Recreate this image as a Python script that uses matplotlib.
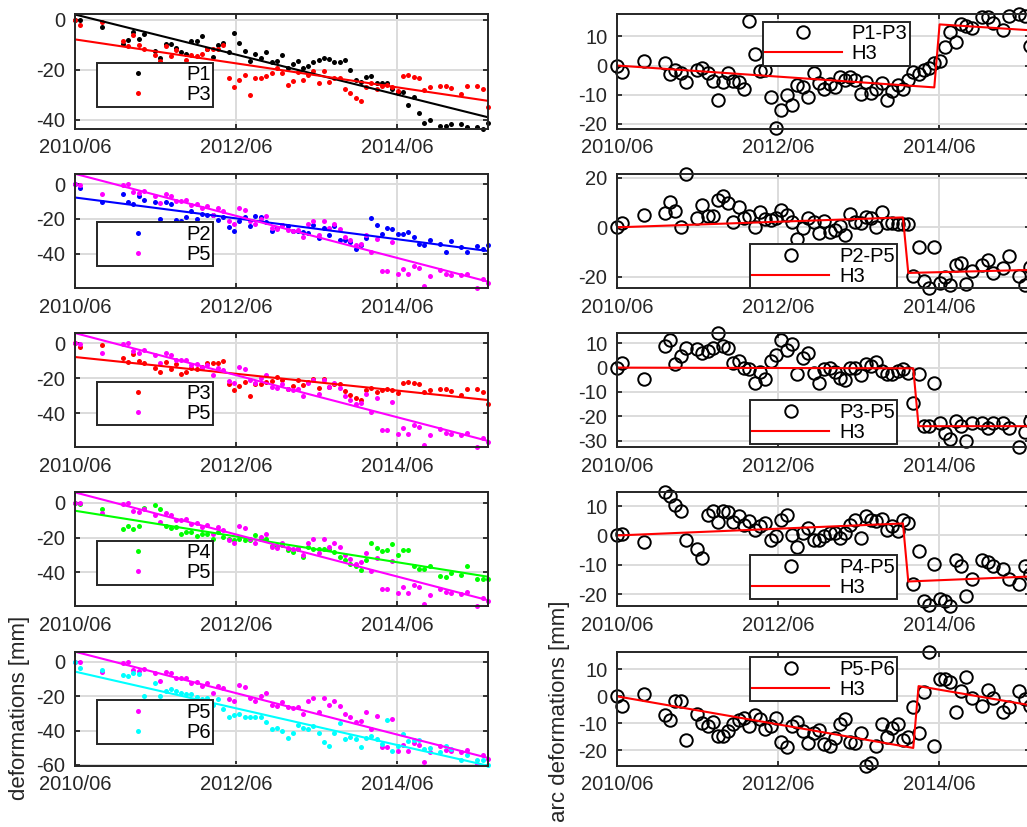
import numpy as np
import matplotlib
matplotlib.use('Agg')
import matplotlib.pyplot as plt
from matplotlib.ticker import MultipleLocator

plt.rcParams['font.family'] = ['Liberation Sans', 'DejaVu Sans']
plt.rcParams['axes.unicode_minus'] = False

# acquisition dates, decimal years
dates = np.array([
    2010.417, 2010.479, 2010.748, 2011.018, 2011.080, 2011.142, 2011.212, 2011.275, 2011.411, 2011.474,
    2011.544, 2011.606, 2011.668, 2011.735, 2011.797, 2011.863, 2011.929, 2011.996, 2012.062, 2012.128,
    2012.195, 2012.261, 2012.327, 2012.394, 2012.460, 2012.526, 2012.593, 2012.659, 2012.725, 2012.791,
    2012.858, 2012.924, 2012.990, 2013.057, 2013.119, 2013.181, 2013.247, 2013.310, 2013.372, 2013.442,
    2013.509, 2013.575, 2013.637, 2013.703, 2013.770, 2013.836, 2013.902, 2013.969, 2014.035, 2014.097,
    2014.163, 2014.230, 2014.292, 2014.358, 2014.424, 2014.491, 2014.557, 2014.623, 2014.690, 2014.756,
    2014.822, 2014.955, 2015.021, 2015.087, 2015.216, 2015.286, 2015.415, 2015.481, 2015.547])

xtick_pos = [2010.417, 2012.417, 2014.417]
xtick_lab = ['2010/06', '2012/06', '2014/06']

# point deformations [mm]
p1 = [0, 0, -3, -9.5, -8.2, -5, -7.5, -5.6, -12.4, -15.2,
      -9.5, -9.5, -11.2, -12.8, -13.5, -8.6, -8.6, -6.3, -11.6, -14.8,
      -9.9, -9.3, -13, -5.2, -9.2, -12.3, -16.7, -13.5, -15.4, -12.8,
      -17, -16.6, -13.9, -19.3, -17.8, -16.7, -19.3, -18.4, -17.1, -16.1,
      -15.2, -15.8, -17, -17.1, -16.1, -20.3, -24.2, -25, -23, -22.4,
      -25.5, -25.5, -25.5, -27.8, -29.4, -28.9, -34, -31.1, -37.4, -41.3,
      -40.3, -42.5, -42.5, -41.6, -41.8, -42.9, -42.9, -43.6, -41.3]
p2 = [0, -2.1, -10.4, -5.9, -10.4, -11.6, -6.8, -9, -10.4, -19.9,
      -10.4, -11.4, -20.8, -21.4, -19.1, -15.3, -20.1, -17.2, -17.6, -18,
      -20.8, -19.1, -24.6, -27.1, -21, -19.1, -23.9, -18.2, -19.1, -21.8,
      -26.7, -25.2, -23.7, -24.2, -27.1, -26.7, -27.5, -28, -23.3, -30.9,
      -25.2, -29, -24.2, -31.8, -31.8, -33.3, -37.5, -35, -31.2, -19.5,
      -23.7, -28.4, -25.2, -25.6, -28.4, -28.6, -27.7, -30.5, -34.1, -35,
      -31.8, -34.1, -38.8, -32.8, -36.2, -38.8, -35.6, -37.5, -35]
p3 = [0, -2, -1, -8.6, -10.6, -6, -10.2, -11.5, -13.9, -16.7,
      -10.6, -14.5, -11.9, -17.8, -16.3, -13.9, -14.5, -13.5, -11.5, -11.5,
      -11.5, -10.1, -23.5, -26.8, -24.2, -22.2, -30.1, -23.5, -23.5, -22.4,
      -21.5, -19.3, -21.3, -26, -24.7, -21, -24, -22.2, -20.6, -25.4,
      -20.6, -24.9, -23.4, -23.2, -27.6, -29.4, -31.5, -32.4, -27, -25.5,
      -27.8, -26.5, -26, -27, -28.7, -22.6, -22.1, -23, -23.5, -28.1,
      -27, -26.4, -26.4, -27.2, -29.9, -26.4, -26.4, -27.8, -34.8]
p4 = [0, -0.6, -3.8, -14.9, -13.5, -14.9, -13.5, -3, -1.1, -3.4,
      -13.5, -14.5, -13.9, -17.7, -16.8, -17.1, -19, -17.7, -17.7, -20.6,
      -16.8, -19.6, -20.6, -21.5, -21, -21.5, -21.5, -18.7, -21, -20.6,
      -24.8, -24.8, -24, -27.2, -28.2, -26.5, -31, -25.7, -26.7, -26.7,
      -26.7, -26.7, -28.2, -31, -33, -35.4, -36.2, -38.7, -33, -23.4,
      -25.9, -27.8, -26.9, -23.8, -30.1, -27, -27.2, -36.4, -38.1, -38.1,
      -36.2, -41.9, -42.5, -40.6, -41.5, -36.4, -43.8, -43.8, -44]
p5 = [0, -0.4, -5.8, -0.6, 0, -4.5, -5.4, -3.9, -6.8, -11,
      -5.8, -6.8, -9.7, -9.7, -9.3, -12.2, -11.7, -14, -12.6, -17.9,
      -14, -15.5, -21.4, -22.9, -13.6, -14.6, -21, -22.9, -19.8, -18.1,
      -25.2, -25.8, -23.3, -26.2, -26.8, -26.2, -30.1, -22.9, -21, -29.1,
      -21, -25.2, -22.9, -25.6, -30.3, -32.2, -35, -34.2, -29.1, -39.2,
      -31.5, -49.7, -49.7, -33.4, -51.7, -48.5, -51.7, -47, -48.2, -58.3,
      -52.8, -49.3, -51.5, -52, -52.4, -51.3, -59.5, -54.5, -56.5]
p6 = [0, -3.5, -4.5, -7.8, -8.3, -6.4, -7.2, -19.8, -12.6, -20,
      -16.9, -16.1, -17, -18, -18.5, -19, -20.4, -21.4, -21, -24.9,
      -21.9, -27.2, -32, -30.7, -30.5, -32, -32, -32, -32, -35,
      -39.2, -38.4, -40.4, -44.3, -41.7, -36.9, -38.8, -39.2, -37.5, -41.7,
      -46.6, -48.9, -41.2, -35.9, -45, -43.7, -45, -49.5, -44.3, -43.1,
      -45.2, -47.9, -33.6, -52, -48.9, -42.3, -46, -45.6, -45.6, -50.5,
      -50.1, -52.8, -49.1, -50.9, -57.3, -54.4, -57.3, -57.3, -60.2]

# arc deformations [mm]
arc_p1p3 = [0, -2.3, 1.7, 0.8, -3, -1.5, -2.6, -5.8, -1.5, -0.9,
            -2.6, -5.2, -11.7, -5.5, -2.6, -5.2, -5.8, -8, 15.3, 3.9,
            -2, -1.5, -10.9, -21.6, -15.1, -10, -13.7, -6.6, -7.5, -10.9,
            -2.6, -6, -8, -6.4, -7.5, -4.1, -4.9, -4.1, -4.9, -9.8,
            -5.5, -9.5, -8, -6, -11.7, -8.9, -6.8, -8, -4.9, -2.3,
            -3, -1.5, -0.7, 0.8, 1.6, 6.5, 11.6, 8, 14.1, 13.7,
            13, 16.7, 16.7, 14.5, 12.2, 17.1, 17.5, 17.1, 6.8]
arc_p2p5 = [0, 1.6, 4.9, 5.6, 10.3, 6.7, 0.3, 21.6, 3.9, 9.2,
            4.7, 4.7, 10.9, 12.7, 10, 2, 8.3, 3.9, 4.7, 0.3,
            6.3, 3.3, 2.9, 3.9, 6.9, 4.9, 2.3, -4.7, -0.4, 3.6,
            2, -2.4, 2.5, -1.7, -1.1, 0.7, -3.1, 5.2, 2.3, 1.6,
            4.3, 3.6, 0.3, 6, 1.6, 1.6, 1.2, 1.2, 1.2, -19.7,
            -8.1, -21.7, -24.4, -8.1, -22.4, -20.1, -23.3, -15, -14.4, -23,
            -17.7, -15, -13, -18.4, -16.4, -11.7, -19.7, -23.3, -16.1]
arc_p3p5 = [0, 2.1, -4.6, 8.7, 11.4, 1.4, 4.8, 7.9, 7.6, 6.2,
            6.9, 7.9, 14.2, 9, 7.9, 1.8, 2.8, 0, -0.5, -6.2,
            -1.8, -4.6, 2.8, 5.1, 11.4, 7.3, 9.7, -2.8, 4.1, 6.2,
            -2.1, -6.5, -0.7, 0, -1.8, -4.1, -5.1, 0, 0, -3.2,
            1.4, 0.7, 2.3, -1.4, -2.8, -2.8, -1.4, -0.7, -2.1, -14.5,
            -2.8, -23.9, -24.1, -6.5, -22.8, -26.9, -29.4, -22.1, -23.9, -30.3,
            -22.8, -22.8, -24.8, -22.8, -22.8, -24.8, -32.7, -26.6, -22.1]
arc_p4p5 = [0, 0.5, -2.3, 14.7, 13.4, 10.5, 8.3, -1.4, -4.5, -7.6,
            7.1, 8.3, 4.5, 8.3, 7.9, 4.5, 6.8, 3.7, 4.9, 2,
            3.2, 4.3, -1.4, -0.2, 5.4, 7.1, 0.3, -4, 0.9, 2.6,
            -1.4, -1.4, -0.2, 0.9, 0.9, -0.8, 0.9, 3.7, 5.4, -0.8,
            6.6, 5.4, 4.9, 5.7, 2, 3.4, 1.5, 5.4, 4.1, -16.6,
            -5.3, -22.3, -23.8, -9.9, -21.7, -22.3, -24.2, -8.2, -10.4, -20.6,
            -14.9, -8.2, -9.1, -10.4, -11.6, -14.7, -16.6, -10.4, -13]
arc_p5p6 = [0, -3.5, 0.9, -7, -8.8, -1.6, -1.6, -16.3, -6.6, -9.8,
            -11, -9.5, -14.6, -14.8, -12.9, -10.4, -8.8, -7.9, -11, -7,
            -8.3, -12, -11, -7.9, -17.1, -18.8, -11, -9.5, -12.9, -17.3,
            -13.8, -12.5, -17.9, -18.6, -15.4, -10.4, -8.5, -17.1, -17.3, -13.8,
            -25.8, -24.8, -18.6, -10.4, -15.1, -11.7, -10.4, -16.1, -15.1, -4.1,
            -13.8, 1.5, 16.6, -18.6, 6.5, 6.5, 5.3, -5.8, 2.1, 7.2,
            -0.8, -3.5, 2.5, -0.8, -5.8, -3.8, 1.8, -1, -3.5]

# H3 model (piecewise linear with offset)
h3_p1p3_t = [2010.417, 2014.358, 2014.424, 2015.547]
h3_p1p3 = [0, -7.5, 14.1, 12.1]
h3_p2p5_t = [2010.417, 2013.969, 2014.035, 2015.547]
h3_p2p5 = [0, 4.0, -18.4, -17.2]
h3_p3p5_t = [2010.417, 2014.097, 2014.163, 2015.547]
h3_p3p5 = [0, -0.3, -24.1, -24.1]
h3_p4p5_t = [2010.417, 2013.969, 2014.035, 2015.547]
h3_p4p5 = [0, 4.1, -15.7, -14.0]
h3_p5p6_t = [2010.417, 2014.097, 2014.163, 2015.547]
h3_p5p6 = [0, -19.2, 3.8, -3.3]

left_rows = [
    [('P1', p1, 'k'), ('P3', p3, '#ff0000')],
    [('P2', p2, '#0000ff'), ('P5', p5, '#ff00ff')],
    [('P3', p3, '#ff0000'), ('P5', p5, '#ff00ff')],
    [('P4', p4, '#00ff00'), ('P5', p5, '#ff00ff')],
    [('P5', p5, '#ff00ff'), ('P6', p6, '#00ffff')],
]
right_rows = [
    ('P1-P3', arc_p1p3, h3_p1p3_t, h3_p1p3, 10, (0.353, 0.935)),
    ('P2-P5', arc_p2p5, h3_p2p5_t, h3_p2p5, 20, (0.322, 0.38)),
    ('P3-P5', arc_p3p5, h3_p3p5_t, h3_p3p5, 10, (0.322, 0.412)),
    ('P4-P5', arc_p4p5, h3_p4p5_t, h3_p4p5, 10, (0.322, 0.447)),
    ('P5-P6', arc_p5p6, h3_p5p6_t, h3_p5p6, 10, (0.322, 0.952)),
]

W, H = 1027, 827
fig = plt.figure(figsize=(W / 100, H / 100), dpi=100)
AX_W, AX_H = 413, 114
DK = '#262626'
FS = 14.5


def add_ax(x0, top):
    return fig.add_axes([x0 / W, 1 - (top + AX_H) / H, AX_W / W, AX_H / H])


def style(ax, step):
    ax.set_xlim(dates[0], dates[-1])
    ax.set_xticks(xtick_pos)
    ax.set_xticklabels(xtick_lab)
    ax.yaxis.set_major_locator(MultipleLocator(step))
    ax.grid(True, color='#dcdcdc', lw=1.4)
    ax.set_axisbelow(True)
    ax.tick_params(direction='in', length=3.6, width=1.3, top=True, right=True,
                   colors=DK, labelsize=FS, pad=7)
    for s in ax.spines.values():
        s.set_linewidth(1.4)
        s.set_color(DK)


def legend(ax, anchor):
    leg = ax.legend(loc='upper left', bbox_to_anchor=anchor, frameon=True, fancybox=False,
                    framealpha=1, edgecolor=DK, borderpad=0.12, labelspacing=0.05,
                    handlelength=3.8, handletextpad=0.5, borderaxespad=0, fontsize=FS,
                    numpoints=1)
    leg.get_frame().set_linewidth(1.4)


for i in range(5):
    top = 14.5 + 159.3 * i

    # left column: point time series with linear trends
    ax = add_ax(75, top)
    ys = []
    for name, vals, col in left_rows[i]:
        vals = np.asarray(vals)
        ax.plot(dates, vals, 'o', ms=3.6, mew=0, color=col, label=name, clip_on=False)
        ys.append(vals)
    for name, vals, col in left_rows[i]:
        k, b = np.polyfit(dates, vals, 1)
        fit = k * dates[[0, -1]] + b
        ax.plot(dates[[0, -1]], fit, '-', color=col, lw=1.5)
        ys.append(fit)
    allv = np.concatenate(ys)
    ax.set_ylim(allv.min(), allv.max())
    style(ax, 20)
    legend(ax, (0.053, 0.575))

    # right column: arc deformations with H3 model
    name, vals, ht, hv, step, anchor = right_rows[i]
    ax = add_ax(617, top)
    ax.plot(dates, vals, 'o', ms=9, mfc='none', mec='k', mew=1.4, label=name, clip_on=False)
    ax.plot(ht, hv, '-', color='#ff0000', lw=1.5, label='H3')
    allv = np.concatenate([vals, hv])
    ax.set_ylim(allv.min(), allv.max())
    style(ax, step)
    legend(ax, anchor)

fig.text(20 / W, 1 - 708 / H, 'deformations [mm]', rotation=90, ha='center', va='center',
         fontsize=16, color=DK)
fig.text(560 / W, 1 - 711 / H, 'arc deformations [mm]', rotation=90, ha='center', va='center',
         fontsize=16, color=DK)

fig.savefig('out.png', dpi=100)
